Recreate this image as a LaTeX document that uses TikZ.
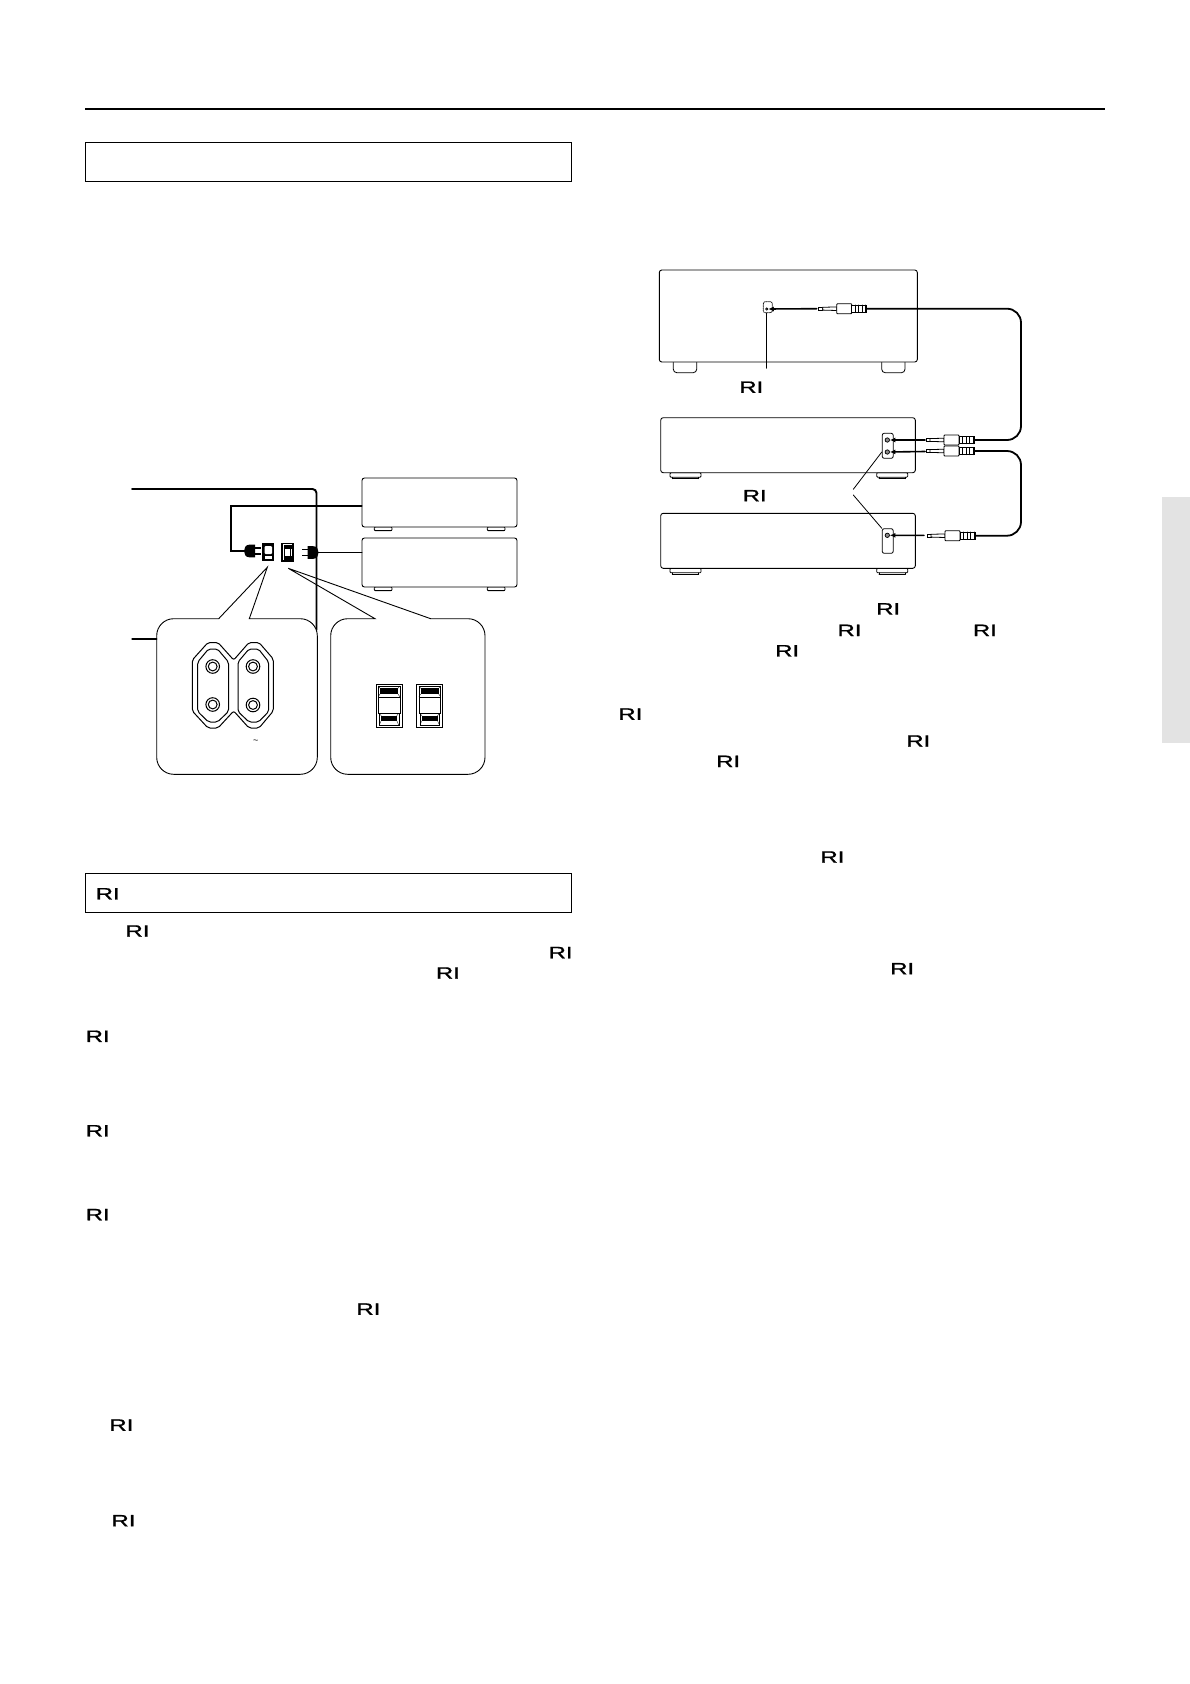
\documentclass[tikz,border=0pt]{standalone}
\usepackage{fontspec}
\setmainfont{Liberation Sans}
\newfontfamily\logofont[FakeBold=0.9]{Liberation Sans}
\usetikzlibrary{arrows.meta}

\begin{document}
\begin{tikzpicture}[
    x=1pt, y=-1pt, % Work in reference pixels, y running down the page
    line cap=round,
    titlebox/.style={draw, line width=1pt}, % Frames around the section titles
    unit/.style={draw, fill=white, rounded corners=2.5pt, line width=0.9pt, inner sep=0pt}, % Component cabinets
    foot/.style={draw, fill=white, line width=0.8pt, rounded corners=1pt},
    power/.style={draw, line width=1.9pt}, % Mains leads
    cable/.style={draw, line width=1.8pt, rounded corners=14pt}, % Signal cables
    insert/.style={draw, line width=1.6pt, -{Latex[length=5.5pt,width=5pt]}}, % Plug-in arrows
    leader/.style={draw, line width=0.8pt},
    callout/.style={draw, fill=white, line width=0.9pt},
    jackpanel/.style={draw, fill=white, rounded corners=2pt, line width=0.8pt, inner sep=0pt},
    jack/.style={circle, draw, fill=black!45, line width=0.7pt, inner sep=0pt, minimum size=4.4pt},
    rilogo/.style={inner sep=0pt, yshift=-1pt, font=\fontsize{16.5}{16.5}\logofont},
    miniplug/.pic={ % Origin at the cable end of the plug
        \draw[fill=white, line width=0.8pt] (-48,-1.4) rectangle (-44,1.4);
        \draw[fill=white, line width=0.8pt] (-44,-1.4) -- (-30,-1.8) -- (-30,1.8) -- (-44,1.4) -- cycle;
        \draw[fill=white, line width=0.9pt, rounded corners=0.8pt] (-30,-5) rectangle (-15,5);
        \draw[fill=white, line width=1pt] (-15,-3.5) rectangle (0,3.5);
        \foreach \t in {-11.5,-8,-4.5,-1} \draw[line width=1pt] (\t,-3.5) -- (\t,3.5);
    },
    mainsplug/.pic={ % Origin where the lead meets the plug, prongs towards +x
        \fill (5.8,-6.4) .. controls (1.5,-6.4) and (0,-3) .. (0,0)
            .. controls (0,3) and (1.5,6.4) .. (5.8,6.4) -- (11,6.4) -- (11,-6.4) -- cycle;
        \draw[line width=1.5pt, line cap=butt] (11,-3.2) -- (16.5,-3.2) (11,3.2) -- (16.5,3.2);
    },
    rockerface/.pic={ % Mains outlet face, origin at the centre
        \draw[line width=1pt] (-13,-21.5) rectangle (13,21.5);
        \draw[line width=0.4pt] (-10.8,-19.8) rectangle (10.8,-9.1);
        \fill (-9,-17.5) rectangle (9,-11.8);
        \draw[line width=0.4pt] (-10.8,-9.1) -- (-10.8,7.5) -- (10.8,7.5) -- (10.8,-9.1);
        \draw[line width=0.4pt] (-9.7,7.5) -- (-9.7,19.2) -- (9.7,19.2) -- (9.7,7.5);
        \fill (-7.8,9.9) rectangle (7.8,14.9);
        \foreach \s in {-1,1} {
            \draw[line width=0.3pt] (\s*9,-17.5) -- (\s*10.8,-19.8) (\s*9,-11.8) -- (\s*10.8,-9.1);
            \draw[line width=0.3pt] (\s*7.8,9.9) -- (\s*9.7,7.5) (\s*7.8,14.9) -- (\s*9.7,19.2);
        }
    },
]
\useasboundingbox (0,0) rectangle (1190,1684);

% Page furniture
\draw[line width=2pt, line cap=butt] (85,109) -- (1105,109);
\fill[black!11] (1162,497) rectangle (1190,743);
\node[titlebox, minimum width=486pt, minimum height=39pt, inner sep=0pt] (titleA) at (328.5,162) {};
\node[titlebox, minimum width=486pt, minimum height=39pt, inner sep=0pt] (titleB) at (328.5,892.5) {};

% Mains figure: right hand enlargement sits under the wall line
\coordinate (tipOutlet) at (267.3,567.3);
\coordinate (tipSwitch) at (288.3,568.3);
\draw[callout, rounded corners=17pt] (430.7,618.7) -- (485,618.7) -- (485,774.3)
    -- (330.7,774.3) -- (330.7,618.7) [sharp corners] -- (375,618.7) -- (tipSwitch) -- cycle;

% Wall outline and cabinets
\coordinate (wallA) at (132,489);
\coordinate (wallB) at (132,639);
\coordinate (wallCorner) at (316.5,489);
\coordinate (wallEnd) at (316.5,630);
\draw[power, rounded corners=4pt] (wallA) -- (wallCorner) -- (wallEnd);

\foreach \x in {374.3,487.3} \foreach \y in {527,587} {
    \draw[foot] (\x,\y) rectangle (\x+17.7,\y+3.6);
    \draw[line width=1.1pt] (\x+0.5,\y+3.8) -- (\x+17.2,\y+3.8);
}
\node[unit, minimum width=155pt, minimum height=49pt] (ampUpper) at (439.5,502.5) {};
\node[unit, minimum width=155pt, minimum height=49pt] (ampLower) at (439.5,562.5) {};

% Mains leads and sockets
\coordinate (bendA) at (230.7,505.7);
\coordinate (plugL) at (244,551);
\coordinate (plugR) at (318.6,552.5);
\draw[power] (ampUpper.west |- bendA) -- (bendA) -- (bendA |- plugL) -- (plugL);
\draw[power] (plugR) -- (plugR -| ampLower.west);
\pic at (plugL) {mainsplug};
\pic[xscale=-1] at (plugR) {mainsplug};

\fill (262.3,543) rectangle (274.3,561);
\fill[white, rounded corners=1pt] (264.6,546) rectangle (272,554);
\fill[white] (265,556) rectangle (271.6,559);
\draw[line width=1.5pt, fill=white] (282,543.7) rectangle (293,561);
\fill (283.5,545) rectangle (291.5,548.5);
\fill (283.5,555.5) rectangle (291.5,559.5);
\draw[line width=0.6pt] (284.5,548) -- (284.5,556) (290.5,548) -- (290.5,556);

% Left hand enlargement
\draw[callout, rounded corners=17pt] (249.3,618.7) -- (317.3,618.7) -- (317.3,774.3)
    -- (156.7,774.3) -- (156.7,618.7) [sharp corners] -- (218.7,618.7) -- (tipOutlet) -- cycle;
\coordinate (calloutEdge) at (156.7,639);
\draw[power, line width=1.3pt] (wallB) -- (calloutEdge);

% Two-pin outlets
\begin{scope}[line width=1pt, rounded corners=2pt]
\draw (192.3,660) -- (208,642.5) -- (218,642.5) -- (233.7,660) -- (249,642.5) -- (259,642.5) -- (273.3,659)
    -- (273.3,711) -- (259,728) -- (249,728) -- (233.7,711) -- (218,728) -- (208,728) -- (192.3,711) -- cycle;
\draw (197.7,662) -- (208.5,649) -- (217.5,649) -- (228.5,662) -- (228.5,711.5) -- (217.5,722) -- (208.5,722) -- (197.7,711.5) -- cycle;
\draw (238,662) -- (249,649) -- (258.5,649) -- (268.7,662) -- (268.7,711.5) -- (258.5,722) -- (249,722) -- (238,711.5) -- cycle;
\end{scope}
\foreach \x/\y in {212.7/666.5,212.7/704.5,253/666.5,253/705} {
    \draw[line width=1pt] (\x,\y) circle (6.8pt);
    \draw[line width=1pt] (\x,\y) circle (4.4pt);
}
\node[inner sep=0pt, font=\fontsize{9}{9}\selectfont] (tildeMark) at (255.7,742) {\char"007E};

% Switched outlets
\pic at (389,705.8) {rockerface};
\pic at (429.7,705.8) {rockerface};

% Link figure: cabinets first, the cables go on top
\draw[foot, rounded corners=3.5pt] (673.3,355) -- (673.3,372.7) -- (696.7,372.7) -- (696.7,355);
\draw[foot, rounded corners=3.5pt] (881.7,355) -- (881.7,372.7) -- (905,372.7) -- (905,355);
\foreach \x in {670,876.7} \foreach \y in {472.7,568.3} {
    \draw[foot] (\x,\y) -- (\x,\y+4.5) -- (\x+31,\y+4.5) -- (\x+31,\y) -- cycle;
    \draw[line width=1.3pt] (\x+2.5,\y+6) -- (\x+28.5,\y+6);
    \draw[line width=0.6pt] (\x+2.5,\y+4.5) -- (\x+2.5,\y+6) (\x+28.5,\y+4.5) -- (\x+28.5,\y+6);
}
\node[unit, minimum width=258pt, minimum height=92pt] (deckTop) at (788.3,316) {};
\node[unit, minimum width=254.6pt, minimum height=55pt] (deckMid) at (788,445.2) {};
\node[unit, minimum width=254.6pt, minimum height=55pt] (deckLow) at (788,540.8) {};

\node[jackpanel, densely dotted, minimum width=9pt, minimum height=11pt] (panelTop) at (767.8,307.2) {};
\node[jackpanel, minimum width=11pt, minimum height=25pt] (panelMid) at (887.7,445.8) {};
\node[jackpanel, minimum width=11pt, minimum height=24.6pt] (panelLow) at (887.7,541) {};
\node[jack, minimum size=2.4pt] (jackTop) at (766.7,309) {};
\node[jack] (jackMidA) at (887.3,440) {};
\node[jack] (jackMidB) at (887.3,452) {};
\node[jack] (jackLow) at (887.3,535.3) {};

% Plugs and cables
\coordinate (plugA) at (866.7,308.7);
\coordinate (plugB) at (974,440);
\coordinate (plugC) at (974,451);
\coordinate (plugD) at (975,535.7);
\coordinate (bendB) at (1021,308.7);
\draw[cable] (plugA) -- (bendB) -- (bendB |- plugB) -- (plugB);
\draw[cable] (plugC) -- (bendB |- plugC) -- (bendB |- plugD) -- (plugD);
\foreach \p in {plugA,plugB,plugC,plugD} \pic at (\p) {miniplug};
\draw[insert] (816.7,308.7) -- (jackTop);
\draw[insert] (925,440) -- (jackMidA);
\draw[insert] (925,451.5) -- (jackMidB);
\draw[insert] (924,535.4) -- (jackLow);

% Leader lines
\coordinate (leaderTop) at (766.7,368.3);
\coordinate (leaderMid) at (853.3,489.3);
\coordinate (leaderLow) at (853.3,495);
\draw[leader] (panelTop.south -| leaderTop) -- (leaderTop);
\draw[leader] (panelMid.west |- jackMidB) -- (leaderMid);
\draw[leader] (leaderLow) -- (panelLow.north west);

% Logos
\foreach \x/\y [count=\n] in {107.7/892.8,137.5/930,560.6/951.6,447.9/972,97.7/1035.3,
    97.7/1129.8,97.7/1213.6,368.4/1308.1,121.4/1424.1,123.5/1519.7,751.3/386.2,754.7/494.7,
    888.2/607.9,849.5/629.4,984.9/629.4,787.2/649.8,630.4/713.1,918.3/740,728.2/760.4,
    832.4/856,902.2/967.7}
    \node[rilogo] (logo\n) at (\x,\y) {\scalebox{1.45}[1]{RI}};
\end{tikzpicture}
\end{document}
